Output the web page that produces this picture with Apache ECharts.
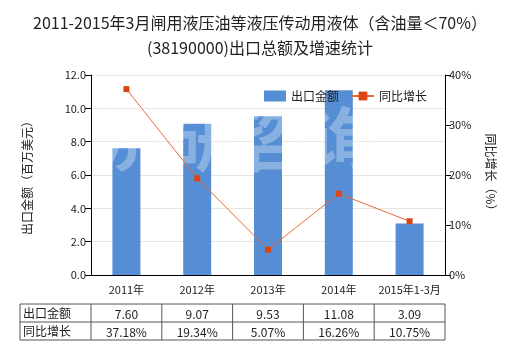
<!DOCTYPE html>
<html><head><meta charset="utf-8">
<script src="https://cdn.jsdelivr.net/npm/echarts@6/dist/echarts.min.js"></script>
<style>html,body{margin:0;padding:0;background:#fff}#c{width:520px;height:350px}</style>
</head><body><div id="c"></div>
<script>
var titleText = '2011-2015年3月闸用液压油等液压传动用液体（含油量＜70%）\n(38190000)出口总额及增速统计';
var categories = ['2011年', '2012年', '2013年', '2014年', '2015年1-3月'];
var exportValues = [7.60, 9.07, 9.53, 11.08, 3.09];
var growthValues = [37.18, 19.34, 5.07, 16.26, 10.75];
var exportLabels = ['7.60', '9.07', '9.53', '11.08', '3.09'];
var growthLabels = ['37.18%', '19.34%', '5.07%', '16.26%', '10.75%'];
var leftTicks = [0, 12, 2];   // min, max, interval
var rightTicks = [0, 40, 10];
var seriesNames = ['出口金额', '同比增长'];

var FONT = '"Noto Sans CJK SC", "Microsoft YaHei", sans-serif';
var G = {left: 91, right: 75, top: 75, bottom: 75};
var W = 520, H = 350;
var plotW = W - G.left - G.right;
var colW = plotW / categories.length;
var tTop = 304, rowH = 18, tLeft = 20;

var graphics = [];
// watermark
graphics.push({type: 'text', left: 98, top: 104, z: 3, silent: true,
  style: {text: '济研咨询', font: 'bold 70px ' + FONT, fill: 'rgba(255,255,255,0.3)', letterSpacing: 14}});
// table lines
var tRight = G.left + plotW;
var lineStyle = {stroke: '#555', lineWidth: 1};
for (var r = 0; r <= 2; r++) {
  graphics.push({type: 'line', shape: {x1: tLeft, y1: tTop + r * rowH, x2: tRight, y2: tTop + r * rowH}, style: lineStyle});
}
graphics.push({type: 'line', shape: {x1: tLeft, y1: tTop, x2: tLeft, y2: tTop + 2 * rowH}, style: lineStyle});
for (var c = 0; c <= categories.length; c++) {
  var x = G.left + c * colW;
  graphics.push({type: 'line', shape: {x1: x, y1: tTop, x2: x, y2: tTop + 2 * rowH}, style: lineStyle});
}
var rowsTxt = [exportLabels, growthLabels];
for (var r = 0; r < 2; r++) {
  graphics.push({type: 'text', x: tLeft + 3, y: tTop + r * rowH + rowH / 2,
    style: {text: seriesNames[r], font: '12px ' + FONT, fill: '#222', verticalAlign: 'middle', align: 'left'}});
  for (var c = 0; c < categories.length; c++) {
    graphics.push({type: 'text', x: G.left + (c + 0.5) * colW, y: tTop + r * rowH + rowH / 2 + 1,
      style: {text: rowsTxt[r][c], font: '12px ' + FONT, fill: '#222', verticalAlign: 'middle', align: 'center'}});
  }
}

var chart = echarts.init(document.getElementById('c'));
chart.setOption({
  animation: false,
  textStyle: {fontFamily: FONT},
  title: {text: titleText, left: 'center', top: 5,
    textStyle: {fontSize: 16, fontWeight: 'normal', color: '#222', lineHeight: 25, fontFamily: FONT}},
  legend: {left: 259, top: 85, itemWidth: 22, itemHeight: 11, itemGap: 12, z: 6,
    textStyle: {fontSize: 12, color: '#222', fontFamily: FONT},
    data: [{name: seriesNames[0], icon: 'rect'}, {name: seriesNames[1]}]},
  grid: {left: G.left, right: G.right, top: G.top, bottom: G.bottom, containLabel: false},
  xAxis: {type: 'category', data: categories,
    axisLine: {lineStyle: {color: '#000'}},
    axisTick: {alignWithLabel: true, length: 5, lineStyle: {color: '#000'}},
    axisLabel: {fontSize: 11, color: '#222', margin: 9, interval: 0}},
  yAxis: [{type: 'value', min: leftTicks[0], max: leftTicks[1], interval: leftTicks[2],
    name: '出口金额（百万美元）', nameLocation: 'middle', nameGap: 58,
    nameTextStyle: {fontSize: 12, color: '#222'},
    axisLine: {show: true, lineStyle: {color: '#000'}},
    axisTick: {show: true, length: 6, lineStyle: {color: '#000'}},
    axisLabel: {fontSize: 11, color: '#222', margin: 5, formatter: function (v) { return v.toFixed(1); }},
    splitLine: {show: true, lineStyle: {color: '#e6e6dc'}}},
   {type: 'value', min: rightTicks[0], max: rightTicks[1], interval: rightTicks[2], position: 'right',
    name: '同比增长（%）', nameLocation: 'middle', nameGap: 40, nameRotate: -90,
    nameTextStyle: {fontSize: 12, color: '#222'},
    axisLine: {show: true, lineStyle: {color: '#000'}},
    axisTick: {show: true, length: 6, lineStyle: {color: '#000'}},
    axisLabel: {fontSize: 11, color: '#222', margin: 4, formatter: '{value}%'},
    splitLine: {show: false}}],
  series: [
    {name: seriesNames[0], type: 'bar', data: exportValues, barWidth: 28, z: 2,
      itemStyle: {color: '#558ED5'}},
    {name: seriesNames[1], type: 'line', yAxisIndex: 1, data: growthValues, z: 5,
      symbol: 'rect', symbolSize: 6, lineStyle: {color: '#E86A33', width: 1},
      itemStyle: {color: '#DD4411'}}
  ],
  graphic: graphics
});
</script></body></html>
